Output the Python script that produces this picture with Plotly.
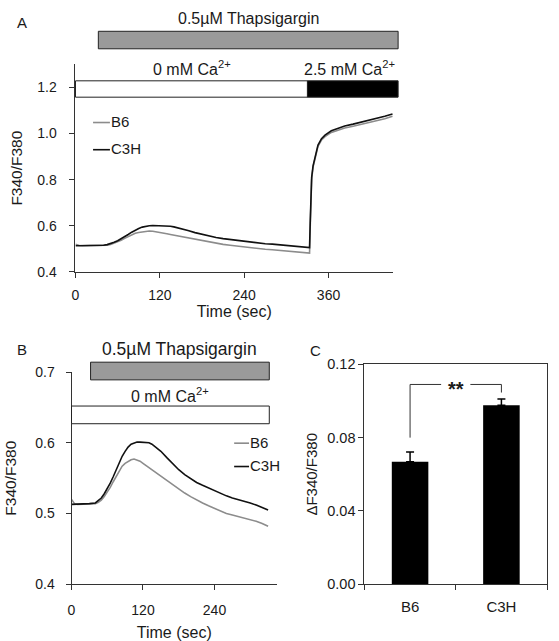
import plotly.graph_objects as go

# ---------------- data ----------------
# Panel A/B shared Ca-free phase (time in s)
t_free = [0, 5, 10, 20, 30, 40, 45, 50, 55, 60, 65, 70, 75, 80, 85, 90, 95, 100, 105, 110,
          115, 120, 125, 130, 135, 140, 150, 160, 170, 180, 190, 200, 210, 220, 230, 240,
          250, 260, 270, 280, 290, 300, 310, 320, 330]
c3h_free = [0.513, 0.513, 0.514, 0.513, 0.514, 0.515, 0.518, 0.522, 0.528, 0.535, 0.543, 0.552,
            0.562, 0.572, 0.581, 0.588, 0.594, 0.598, 0.600, 0.601, 0.601, 0.601, 0.601, 0.600,
            0.598, 0.595, 0.588, 0.579, 0.570, 0.562, 0.555, 0.549, 0.544, 0.540, 0.536, 0.532,
            0.528, 0.525, 0.522, 0.520, 0.517, 0.515, 0.512, 0.509, 0.505]
b6_free = [0.520, 0.514, 0.513, 0.513, 0.513, 0.514, 0.516, 0.519, 0.524, 0.530, 0.537, 0.545,
           0.553, 0.561, 0.567, 0.571, 0.574, 0.576, 0.577, 0.576, 0.574, 0.571, 0.568, 0.565,
           0.562, 0.559, 0.553, 0.546, 0.540, 0.534, 0.529, 0.524, 0.519, 0.515, 0.511, 0.507,
           0.503, 0.500, 0.498, 0.496, 0.493, 0.491, 0.489, 0.486, 0.482]
# Panel A Ca2+ re-addition phase
t_add = [333, 334, 335, 336, 338, 341, 345, 350, 355, 364, 375, 383, 395, 407, 420, 430, 440, 451]
c3h_add = [0.505, 0.62, 0.75, 0.81, 0.86, 0.90, 0.95, 0.978, 0.993, 1.012, 1.024, 1.033, 1.041,
           1.050, 1.058, 1.067, 1.075, 1.085]
b6_add = [0.481, 0.60, 0.73, 0.80, 0.855, 0.895, 0.945, 0.972, 0.987, 1.005, 1.016, 1.024, 1.032,
          1.040, 1.048, 1.056, 1.064, 1.075]

# Panel C
strains = ["B6", "C3H"]
delta_mean = [0.0669, 0.0977]
delta_sem = [0.0053, 0.0033]

# protocol bars (seconds)
thaps_on_A, thaps_off_A = 32.5, 459
ca_switch_A = 330
thaps_on_B, thaps_off_B = 32, 332
ca_end_B = 332

FONT = "Liberation Sans, Arial, sans-serif"
GREY = "#8c8c8c"
BLACK = "#111111"
TXT = "#1a1a1a"

A_X = [0, 452]
A_Y = [0.4, 1.3]
B_X = [0, 345]
B_Y = [0.4, 0.7]

fig = go.Figure()

# Panel A traces
fig.add_trace(go.Scatter(x=t_free + t_add, y=b6_free + b6_add, mode="lines", name="B6",
                         line=dict(color=GREY, width=1.6), xaxis="x", yaxis="y", showlegend=False))
fig.add_trace(go.Scatter(x=t_free + t_add, y=c3h_free + c3h_add, mode="lines", name="C3H",
                         line=dict(color=BLACK, width=1.6), xaxis="x", yaxis="y", showlegend=False))
# Panel B traces
fig.add_trace(go.Scatter(x=t_free, y=b6_free, mode="lines", name="B6",
                         line=dict(color=GREY, width=1.6), xaxis="x2", yaxis="y2", showlegend=False))
fig.add_trace(go.Scatter(x=t_free, y=c3h_free, mode="lines", name="C3H",
                         line=dict(color=BLACK, width=1.6), xaxis="x2", yaxis="y2", showlegend=False))
# Panel C bars
fig.add_trace(go.Bar(x=strains, y=delta_mean, width=0.4, marker=dict(color="black", line=dict(width=0)),
                     error_y=dict(type="data", symmetric=False, array=delta_sem, arrayminus=[0, 0],
                                  color="black", thickness=1.5, width=4),
                     xaxis="x3", yaxis="y3", showlegend=False))


def fx(t, xr):
    return (t - xr[0]) / (xr[1] - xr[0])


def fy(v, yr):
    return (v - yr[0]) / (yr[1] - yr[0])


shapes = []
annotations = []


def rect(ax, x0, x1, y0, y1, xr, yr, fill):
    shapes.append(dict(type="rect", xref=ax[0] + " domain", yref=ax[1] + " domain",
                       x0=fx(x0, xr), x1=fx(x1, xr), y0=fy(y0, yr), y1=fy(y1, yr),
                       fillcolor=fill, line=dict(color="#222", width=1)))


def label(ax, x, y, xr, yr, text, size=16, xanchor="center"):
    annotations.append(dict(xref=ax[0] + " domain", yref=ax[1] + " domain", x=fx(x, xr), y=fy(y, yr),
                            text=text, showarrow=False, xanchor=xanchor, yanchor="middle",
                            font=dict(family=FONT, size=size, color=TXT)))


# Panel A protocol bars
rect(("x", "y"), thaps_on_A, thaps_off_A, 1.368, 1.444, A_X, A_Y, "#9a9a9a")
rect(("x", "y"), 0, ca_switch_A, 1.158, 1.229, A_X, A_Y, "white")
rect(("x", "y"), ca_switch_A, thaps_off_A, 1.158, 1.229, A_X, A_Y, "black")
label(("x", "y"), (thaps_on_A + thaps_off_A) / 2, 1.50, A_X, A_Y, "0.5µM Thapsigargin", size=16)
label(("x", "y"), 166, 1.285, A_X, A_Y, "0 mM Ca<sup>2+</sup>")
label(("x", "y"), 390, 1.285, A_X, A_Y, "2.5 mM Ca<sup>2+</sup>")

# Panel B protocol bars
rect(("x2", "y2"), thaps_on_B, thaps_off_B, 0.689, 0.714, B_X, B_Y, "#9a9a9a")
rect(("x2", "y2"), 0, ca_end_B, 0.627, 0.652, B_X, B_Y, "white")
label(("x2", "y2"), 182, 0.733, B_X, B_Y, "0.5µM Thapsigargin", size=17.5)
label(("x2", "y2"), 165, 0.667, B_X, B_Y, "0 mM Ca<sup>2+</sup>")


# legends (manual, short line samples)
def legend(ax, xr, yr, x0, x1, ys, names, colors):
    for yv, nm, col in zip(ys, names, colors):
        shapes.append(dict(type="line", xref=ax[0] + " domain", yref=ax[1] + " domain",
                           x0=fx(x0, xr), x1=fx(x1, xr), y0=fy(yv, yr), y1=fy(yv, yr),
                           line=dict(color=col, width=1.6)))
        annotations.append(dict(xref=ax[0] + " domain", yref=ax[1] + " domain",
                                x=fx(x1, xr), y=fy(yv, yr), text=nm, showarrow=False,
                                xanchor="left", yanchor="middle", yshift=1, xshift=-1,
                                font=dict(family=FONT, size=15, color=TXT)))


legend(("x", "y"), A_X, A_Y, 25, 49, [1.048, 0.93], ["B6", "C3H"], [GREY, BLACK])
legend(("x2", "y2"), B_X, B_Y, 273, 298, [0.5995, 0.5665], ["B6", "C3H"], [GREY, BLACK])

# Panel C significance bracket
shapes.append(dict(type="path", xref="x3", yref="y3",
                   path="M 0,0.080 L 0,0.109 L 0.34,0.109", line=dict(color="#333", width=1)))
shapes.append(dict(type="path", xref="x3", yref="y3",
                   path="M 0.66,0.109 L 1,0.109 L 1,0.1046", line=dict(color="#333", width=1)))
annotations.append(dict(xref="x3", yref="y3", x=0.5, y=0.109, text="<b>**</b>", showarrow=False,
                        font=dict(family=FONT, size=20, color=TXT), yanchor="middle", yshift=-5))

# panel letters
for txt, px, py in [("A", 11, 15), ("B", 11, 351), ("C", 306, 352)]:
    annotations.append(dict(xref="paper", yref="paper", x=px / 559, y=1 - py / 641, text=txt,
                            showarrow=False, xanchor="left", yanchor="middle",
                            font=dict(family=FONT, size=15, color=TXT)))


def axis(size, **kw):
    d = dict(showline=True, linecolor="#333", linewidth=1, ticks="outside", ticklen=5,
             tickcolor="#333", showgrid=False, zeroline=False,
             tickfont=dict(family=FONT, size=size, color=TXT))
    d.update(kw)
    return d


def ttl(text, size, standoff):
    return dict(text=text, font=dict(family=FONT, size=size, color=TXT), standoff=standoff)


fig.update_layout(
    width=559, height=641, margin=dict(l=0, r=0, t=0, b=0),
    paper_bgcolor="white", plot_bgcolor="white",
    shapes=shapes, annotations=annotations,
    xaxis=axis(14, domain=[72 / 559, 392 / 559], range=A_X, tickvals=[0, 120, 240, 360], anchor="y",
               ticklabelstandoff=5, title=ttl("Time (sec)", 16, 4)),
    yaxis=axis(14, domain=[1 - 271 / 641, 1 - 58 / 641], range=A_Y, tickvals=[0.4, 0.6, 0.8, 1.0, 1.2],
               tickformat=".1f", anchor="x", ticklabelstandoff=10,
               title=ttl("F340/F380", 15.5, 10)),
    xaxis2=axis(14, domain=[68 / 559, 275 / 559], range=B_X, tickvals=[0, 120, 240], anchor="y2",
                ticklabelstandoff=8, title=ttl("Time (sec)", 16, 12)),
    yaxis2=axis(14, domain=[1 - 592 / 641, 1 - 374 / 641], range=B_Y, tickvals=[0.4, 0.5, 0.6, 0.7],
                tickformat=".1f", anchor="x2", ticklabelstandoff=8,
                title=ttl("F340/F380", 15.5, 14)),
    xaxis3=axis(15, domain=[363 / 559, 547 / 559], type="category", tickson="boundaries", anchor="y3",
                mirror=True, range=[-0.5, 1.5], ticklabelstandoff=9),
    yaxis3=axis(14.5, domain=[1 - 592 / 641, 1 - 366 / 641], range=[0, 0.12], tickvals=[0, 0.04, 0.08, 0.12],
                tickformat=".2f", anchor="x3", mirror=True, ticklabelstandoff=0,
                title=ttl("ΔF340/F380", 15, 6)),
)

fig.write_html("out.html")
